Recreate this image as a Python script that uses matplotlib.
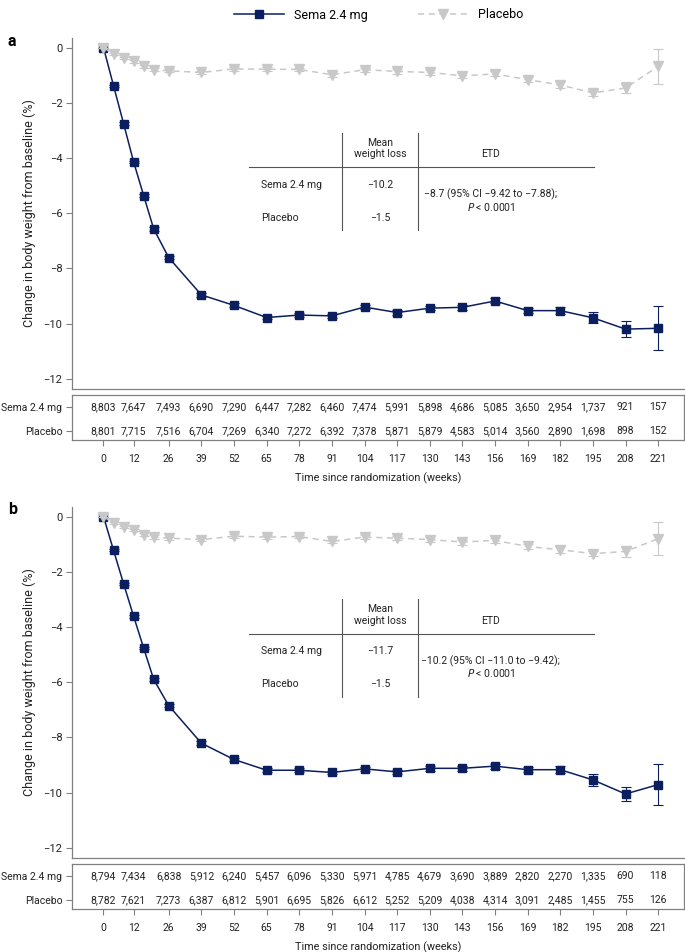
import matplotlib
matplotlib.use("Agg")
import matplotlib.pyplot as plt
from matplotlib.lines import Line2D
import numpy as np

plt.rcParams['font.family'] = ['Roboto', 'DejaVu Sans']

weeks = [0, 4, 8, 12, 16, 20, 26, 39, 52, 65, 78, 91, 104, 117, 130, 143, 156, 169, 182, 195, 208, 221]
tick_weeks = [0, 12, 26, 39, 52, 65, 78, 91, 104, 117, 130, 143, 156, 169, 182, 195, 208, 221]

# Panel a
sema_a = [0, -1.38, -2.75, -4.14, -5.36, -6.57, -7.61, -8.96, -9.34, -9.78, -9.69, -9.72, -9.40, -9.60,
          -9.44, -9.41, -9.18, -9.53, -9.53, -9.79, -10.20, -10.17]
sema_a_err = [0, 0.03, 0.04, 0.05, 0.05, 0.06, 0.06, 0.07, 0.07, 0.07, 0.07, 0.07, 0.07, 0.08,
              0.08, 0.09, 0.09, 0.10, 0.12, 0.20, 0.30, 0.80]
plac_a = [0, -0.23, -0.38, -0.50, -0.68, -0.80, -0.84, -0.90, -0.77, -0.78, -0.79, -0.98, -0.80, -0.86,
          -0.90, -1.02, -0.95, -1.16, -1.35, -1.64, -1.46, -0.68]
plac_a_err = [0, 0.03, 0.04, 0.05, 0.05, 0.06, 0.06, 0.07, 0.07, 0.07, 0.07, 0.07, 0.07, 0.08,
              0.08, 0.09, 0.09, 0.10, 0.12, 0.12, 0.20, 0.63]
n_sema_a = ["8,803", "7,647", "7,493", "6,690", "7,290", "6,447", "7,282", "6,460", "7,474", "5,991",
            "5,898", "4,686", "5,085", "3,650", "2,954", "1,737", "921", "157"]
n_plac_a = ["8,801", "7,715", "7,516", "6,704", "7,269", "6,340", "7,272", "6,392", "7,378", "5,871",
            "5,879", "4,583", "5,014", "3,560", "2,890", "1,698", "898", "152"]
mean_a = ["\u221210.2", "\u22121.5"]
etd_a = "\u22128.7 (95% CI \u22129.42 to \u22127.88);"

# Panel b
sema_b = [0, -1.22, -2.43, -3.61, -4.76, -5.90, -6.85, -8.21, -8.80, -9.19, -9.19, -9.27, -9.14, -9.25,
          -9.12, -9.12, -9.04, -9.17, -9.17, -9.54, -10.05, -9.71]
sema_b_err = [0, 0.03, 0.04, 0.05, 0.05, 0.06, 0.06, 0.07, 0.07, 0.07, 0.07, 0.07, 0.07, 0.08,
              0.08, 0.09, 0.09, 0.10, 0.12, 0.21, 0.25, 0.73]
plac_b = [0, -0.23, -0.38, -0.48, -0.66, -0.74, -0.78, -0.83, -0.71, -0.74, -0.72, -0.90, -0.74, -0.78,
          -0.83, -0.92, -0.86, -1.08, -1.20, -1.34, -1.26, -0.80]
plac_b_err = [0, 0.03, 0.04, 0.05, 0.05, 0.06, 0.06, 0.07, 0.07, 0.07, 0.07, 0.07, 0.07, 0.08,
              0.08, 0.09, 0.09, 0.10, 0.12, 0.10, 0.20, 0.60]
n_sema_b = ["8,794", "7,434", "6,838", "5,912", "6,240", "5,457", "6,096", "5,330", "5,971", "4,785",
            "4,679", "3,690", "3,889", "2,820", "2,270", "1,335", "690", "118"]
n_plac_b = ["8,782", "7,621", "7,273", "6,387", "6,812", "5,901", "6,695", "5,826", "6,612", "5,252",
            "5,209", "4,038", "4,314", "3,091", "2,485", "1,455", "755", "126"]
mean_b = ["\u221211.7", "\u22121.5"]
etd_b = "\u221210.2 (95% CI \u221211.0 to \u22129.42);"

group_labels = ["Sema 2.4 mg", "Placebo"]

NAVY = '#0b1f5e'
GREY = '#c8c8c8'
SPINE = '#808080'
TXT = '#222222'

W, H = 685, 952
fig = plt.figure(figsize=(W / 100, H / 100), dpi=100)


def rect(l, r, t, b):
    return [l / W, 1 - b / H, (r - l) / W, (b - t) / H]


XL = (-12.55, 231.3)


def panel(dy, sema, sema_err, plac, plac_err, n_s, n_p, mean_vals, etd, letter, tab):
    ax = fig.add_axes(rect(72, 684, 38 + dy, 389 + dy))
    ax.set_xlim(*XL)
    ax.set_ylim(-12.37, 0.35)
    for s in ['top', 'right']:
        ax.spines[s].set_visible(False)
    for s in ['left', 'bottom']:
        ax.spines[s].set_color(SPINE)
        ax.spines[s].set_linewidth(0.9)
    ax.set_xticks([])
    ax.set_yticks([0, -2, -4, -6, -8, -10, -12])
    ax.tick_params(axis='y', length=4, width=0.8, color=SPINE, labelsize=8, labelcolor=TXT, pad=3)
    ax.set_ylabel("Change in body weight from baseline (%)", fontsize=9, color=TXT, labelpad=5)

    ax.errorbar(weeks, sema, yerr=sema_err, color=NAVY, lw=1.1, marker='s', ms=6.2,
                mfc=NAVY, mec=NAVY, capsize=3.5, elinewidth=0.8, capthick=0.8, zorder=3)
    ax.errorbar(weeks, plac, yerr=plac_err, color=GREY, lw=1.1, ls=(0, (4, 3)), marker='v', ms=7,
                mfc=GREY, mec=GREY, capsize=3.5, elinewidth=0.8, capthick=0.8, zorder=4)

    # inset summary table
    (xl, xr, xv1, xv2, ytop, ybot, yh, yhead1, yhead2, yr1, yr2, ye1, ye2) = tab
    kw = dict(color='#555555', lw=0.8)
    ax.plot([xl, xr], [yh, yh], **kw)
    ax.plot([xv1, xv1], [ytop, ybot], **kw)
    ax.plot([xv2, xv2], [ytop, ybot], **kw)
    xc1 = (xv1 + xv2) / 2
    xc2 = (xv2 + xr) / 2 - 6
    fs = 7.5
    ax.text(xc1, yhead1, "Mean", ha='center', va='center', fontsize=fs, color=TXT)
    ax.text(xc1, yhead2, "weight loss", ha='center', va='center', fontsize=fs, color=TXT)
    ax.text(xc2, yhead2, "ETD", ha='center', va='center', fontsize=fs, color=TXT)
    ax.text(xl + 5, yr1, group_labels[0], ha='left', va='center', fontsize=fs, color=TXT)
    ax.text(xl + 5, yr2, group_labels[1], ha='left', va='center', fontsize=fs, color=TXT)
    ax.text(xc1, yr1, mean_vals[0], ha='center', va='center', fontsize=fs, color=TXT)
    ax.text(xc1, yr2, mean_vals[1], ha='center', va='center', fontsize=fs, color=TXT)
    ax.text(xc2, ye1, etd, ha='center', va='center', fontsize=fs, color=TXT)
    ax.text(xc2, ye2, r"$\it{P}$ < 0.0001", ha='center', va='center', fontsize=fs, color=TXT)

    fig.text(8 / W, 1 - (41 + dy) / H, letter, fontsize=11.5, fontweight='bold', ha='left', va='center')

    # numbers at risk
    tb = fig.add_axes(rect(72, 684, 395 + dy, 440 + dy))
    tb.set_xlim(*XL)
    tb.set_ylim(0, 1)
    for s in tb.spines.values():
        s.set_color(SPINE)
        s.set_linewidth(0.9)
    ys = [0.735, 0.2]
    tb.set_yticks(ys)
    tb.set_yticklabels(group_labels)
    tb.set_xticks(tick_weeks)
    tb.set_xticklabels([str(t) for t in tick_weeks])
    tb.tick_params(axis='both', length=4, width=0.8, color=SPINE, labelsize=7.5, labelcolor=TXT, pad=3)
    tb.tick_params(axis='x', pad=6)
    for xw, a, b in zip(tick_weeks, n_s, n_p):
        tb.text(xw, ys[0], a, ha='center', va='center', fontsize=7.5, color=TXT)
        tb.text(xw, ys[1], b, ha='center', va='center', fontsize=7.5, color=TXT)
    tb.set_xlabel("Time since randomization (weeks)", fontsize=7.8, color=TXT, labelpad=6)


tab_a = (57.9, 195.4, 95.0, 125.2, -3.10, -6.59, -4.33, -3.45, -3.87, -4.99, -6.16, -5.33, -5.77)
tab_b = (57.9, 195.4, 95.0, 125.2, -2.97, -6.52, -4.24, -3.36, -3.78, -4.87, -6.06, -5.25, -5.67)

panel(0, sema_a, sema_a_err, plac_a, plac_a_err, n_sema_a, n_plac_a, mean_a, etd_a, 'a', tab_a)
panel(469, sema_b, sema_b_err, plac_b, plac_b_err, n_sema_b, n_plac_b, mean_b, etd_b, 'b', tab_b)

handles = [
    Line2D([], [], color=NAVY, lw=1.1, marker='s', ms=6.2, mfc=NAVY, mec=NAVY),
    Line2D([], [], color=GREY, lw=1.1, ls=(0, (4, 3)), marker='v', ms=7, mfc=GREY, mec=GREY),
]
fig.legend(handles, group_labels, loc='center', bbox_to_anchor=(0.553, 1 - 15 / H), ncol=2,
           frameon=False, fontsize=9, handlelength=4, columnspacing=4.0, handletextpad=0.8)

fig.savefig("out.png", dpi=100)
